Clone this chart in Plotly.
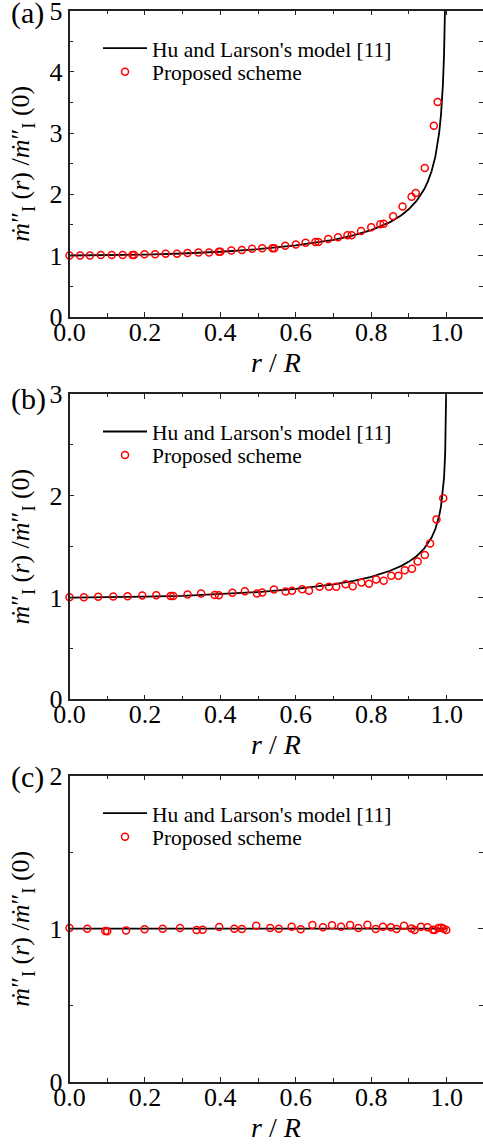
import plotly.graph_objects as go

# ---------------- data ----------------
# Panel (a): Hu and Larson's model curve
model_a_r = [0.0, 0.1, 0.2, 0.3, 0.4, 0.5, 0.6, 0.7, 0.75, 0.8, 0.85, 0.88, 0.9,
             0.92, 0.94, 0.95, 0.96, 0.97, 0.98, 0.985, 0.99, 0.993, 0.996]
model_a_y = [1.000, 1.003, 1.014, 1.033, 1.061, 1.103, 1.164, 1.257, 1.325, 1.415,
             1.546, 1.659, 1.759, 1.891, 2.078, 2.207, 2.376, 2.616, 2.998, 3.303,
             3.788, 4.274, 5.166]
# Panel (a): proposed scheme
pts_a_r = [0.000, 0.028, 0.054, 0.083, 0.112, 0.141, 0.167, 0.171, 0.199, 0.227,
           0.255, 0.285, 0.313, 0.342, 0.370, 0.396, 0.400, 0.429, 0.457, 0.484,
           0.511, 0.538, 0.543, 0.572, 0.600, 0.626, 0.652, 0.660, 0.686, 0.712,
           0.737, 0.748, 0.773, 0.800, 0.824, 0.833, 0.858, 0.883, 0.907, 0.918,
           0.942, 0.966, 0.976]
pts_a_y = [1.00, 1.00, 1.00, 1.01, 1.01, 1.01, 1.01, 1.01, 1.02, 1.02,
           1.03, 1.03, 1.04, 1.05, 1.05, 1.06, 1.06, 1.08, 1.09, 1.11,
           1.12, 1.12, 1.12, 1.16, 1.18, 1.21, 1.22, 1.22, 1.27, 1.30,
           1.33, 1.33, 1.40, 1.46, 1.51, 1.52, 1.64, 1.80, 1.96, 2.02,
           2.43, 3.12, 3.51]

# Panel (b): model curve
model_b_r = [0.0, 0.1, 0.2, 0.3, 0.4, 0.5, 0.6, 0.7, 0.75, 0.8, 0.85, 0.88, 0.9,
             0.92, 0.94, 0.95, 0.96, 0.97, 0.98, 0.985, 0.99, 0.993, 0.996, 0.998, 0.999]
model_b_y = [1.000, 1.002, 1.008, 1.017, 1.032, 1.054, 1.085, 1.130, 1.162, 1.204,
             1.263, 1.311, 1.353, 1.406, 1.479, 1.528, 1.589, 1.673, 1.800, 1.896,
             2.040, 2.176, 2.409, 2.732, 3.099]
# Panel (b): proposed scheme
pts_b_r = [0.000, 0.038, 0.076, 0.116, 0.154, 0.193, 0.230, 0.268, 0.275, 0.313,
           0.349, 0.385, 0.396, 0.432, 0.465, 0.497, 0.511, 0.542, 0.573, 0.590,
           0.617, 0.635, 0.663, 0.688, 0.707, 0.732, 0.751, 0.774, 0.794, 0.813,
           0.833, 0.853, 0.872, 0.889, 0.908, 0.923, 0.942, 0.956, 0.973, 0.991]
pts_b_y = [1.003, 1.003, 1.007, 1.010, 1.013, 1.020, 1.023, 1.016, 1.016, 1.030,
           1.039, 1.026, 1.023, 1.046, 1.062, 1.039, 1.049, 1.079, 1.059, 1.066,
           1.082, 1.066, 1.105, 1.105, 1.105, 1.131, 1.112, 1.148, 1.135, 1.177,
           1.164, 1.213, 1.213, 1.269, 1.282, 1.355, 1.417, 1.532, 1.768, 1.975]

# Panel (c): model curve
model_c_r = [0.0, 1.0]
model_c_y = [1.0, 1.0]
# Panel (c): proposed scheme
pts_c_r = [0.000, 0.047, 0.095, 0.100, 0.150, 0.199, 0.247, 0.293, 0.337, 0.353,
           0.397, 0.437, 0.457, 0.495, 0.532, 0.555, 0.589, 0.613, 0.644, 0.672,
           0.696, 0.720, 0.744, 0.766, 0.790, 0.812, 0.831, 0.852, 0.867, 0.887,
           0.907, 0.915, 0.932, 0.949, 0.963, 0.968, 0.978, 0.986, 0.992, 0.999]
pts_c_y = [1.004, 1.000, 0.985, 0.983, 0.989, 0.996, 1.000, 1.004, 0.991, 0.993,
           1.011, 1.000, 0.998, 1.020, 1.004, 1.000, 1.013, 0.996, 1.024, 1.009,
           1.022, 1.013, 1.024, 1.004, 1.026, 0.998, 1.013, 1.009, 0.998, 1.020,
           1.002, 0.991, 1.013, 1.009, 0.993, 0.991, 1.004, 1.007, 1.000, 0.991]

panel_labels = ["(a)", "(b)", "(c)"]
y_maxes = [5, 3, 2]
legend_names = ["Hu and Larson's model [11]", "Proposed scheme"]
x_tick_vals = [0.0, 0.2, 0.4, 0.6, 0.8, 1.0]
x_tick_text = ["0.0", "0.2", "0.4", "0.6", "0.8", "1.0"]

# ---------------- layout constants ----------------
W, H = 483, 1145
FONT = "Liberation Serif"
x_left_px, x_right_px = 69.5, 482.5
panel_px = [(10.7, 316.7), (394.0, 699.3), (775.7, 1081.7)]  # (top, bottom)
label_dy = [2, 5, 1.5]

fig = go.Figure()

models = [(model_a_r, model_a_y), (model_b_r, model_b_y), (model_c_r, model_c_y)]
points = [(pts_a_r, pts_a_y), (pts_b_r, pts_b_y), (pts_c_r, pts_c_y)]

ytitle = "<i>ṁ</i>″<sub>I</sub> (<i>r</i>) /<i>ṁ</i>″<sub>I</sub> (0)"
xtitle = "<i>r</i> / <i>R</i>"

for i in range(3):
    sfx = "" if i == 0 else str(i + 1)
    xa, ya = "x" + sfx, "y" + sfx
    lg1 = "legend" + ("" if i == 0 else str(2 * i + 1))
    lg2 = "legend" + str(2 * i + 2)
    mr, my = models[i]
    pr, py = points[i]
    fig.add_trace(go.Scatter(x=mr, y=my, mode="lines", name=legend_names[0],
                             line=dict(color="black", width=1.8),
                             xaxis=xa, yaxis=ya, legend=lg1))
    fig.add_trace(go.Scatter(x=pr, y=py, mode="markers", name=legend_names[1],
                             marker=dict(symbol="circle-open", size=7, color="red",
                                         line=dict(color="red", width=1.5)),
                             xaxis=xa, yaxis=ya, legend=lg2, cliponaxis=False))

    top, bot = panel_px[i]
    dom_y = [1 - bot / H, 1 - top / H]
    axis_common = dict(showline=True, linecolor="#222", linewidth=1.5,
                       mirror="allticks", ticks="inside", ticklen=5, tickwidth=1.2,
                       tickcolor="#222", showgrid=False, zeroline=False,
                       automargin=False, ticklabeloverflow="allow",
                       tickfont=dict(family=FONT, size=26, color="black"))
    leg_common = dict(x=98 / W, xanchor="left", yanchor="middle",
                      bgcolor="rgba(0,0,0,0)", font=dict(family=FONT, size=21.5, color="black"),
                      itemwidth=44)
    fig.update_layout(**{
        "xaxis" + sfx: dict(axis_common, domain=[x_left_px / W, x_right_px / W],
                            range=[0, 1.095], tickvals=x_tick_vals, ticktext=x_tick_text,
                            ticklabelstandoff=-9,
                            minor=dict(dtick=0.1, ticks="inside", ticklen=3.5,
                                       tickcolor="#222", tickwidth=1.2),
                            anchor=ya,
                            title=dict(text=xtitle, standoff=0,
                                       font=dict(family=FONT, size=28, color="black"))),
        "yaxis" + sfx: dict(axis_common, domain=dom_y, range=[0, y_maxes[i]],
                            tickvals=list(range(y_maxes[i] + 1)), anchor=xa,
                            minor=dict(dtick=0.5, ticks="inside", ticklen=3.5,
                                       tickcolor="#222", tickwidth=1.2),
                            title=dict(text=ytitle, standoff=12,
                                       font=dict(family=FONT, size=26, color="black"))),
        lg1: dict(leg_common, y=1 - (top + 37.5) / H),
        lg2: dict(leg_common, y=1 - (top + 61.0) / H),
    })
    fig.add_annotation(text=panel_labels[i], xref="paper", yref="paper",
                       x=9 / W, y=1 - (top + label_dy[i]) / H, xanchor="left", yanchor="middle",
                       showarrow=False, font=dict(family=FONT, size=30, color="black"))

fig.update_layout(width=W, height=H, margin=dict(l=0, r=0, t=0, b=0),
                  plot_bgcolor="white", paper_bgcolor="white", showlegend=True)

fig.write_html("out.html", config={"displayModeBar": False},
               post_script="document.body.style.margin='0';document.body.style.overflow='hidden';")
